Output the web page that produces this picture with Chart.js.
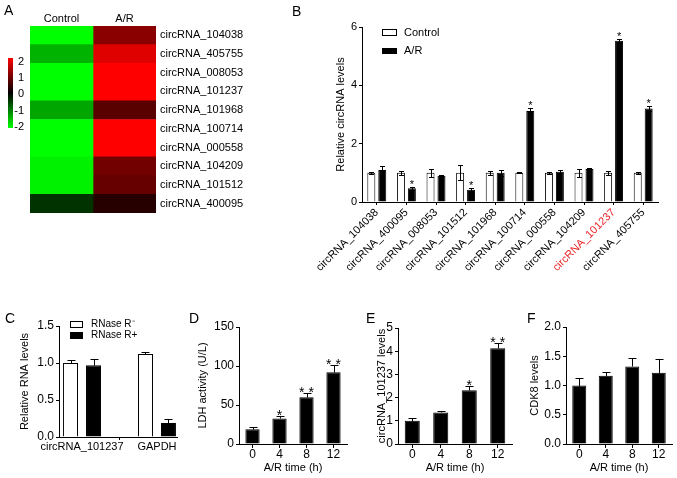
<!DOCTYPE html>
<html>
<head>
<meta charset="utf-8">
<script src="https://cdn.jsdelivr.net/npm/chart.js@4.4.1/dist/chart.umd.min.js"></script>
<style>
  body { margin: 0; background: #fff; font-family: "Liberation Sans", Arial, sans-serif; }
  #wrap { position: relative; width: 677px; height: 478px; overflow: hidden; }
  canvas { position: absolute; }
  .tag { position: absolute; font-size: 14px; line-height: 14px; color: #000; }
  .txt { position: absolute; color: #000; white-space: nowrap; }
  .sw { position: absolute; box-sizing: border-box; border: 1px solid #000; }
</style>
</head>
<body>
<div id="wrap">
  <canvas id="chartA" width="290" height="240" style="left:0;top:0"></canvas>
  <canvas id="chartB" width="382" height="300" style="left:295px;top:0"></canvas>
  <canvas id="chartC" width="200" height="178" style="left:0;top:300px"></canvas>
  <canvas id="chartD" width="170" height="178" style="left:190px;top:300px"></canvas>
  <canvas id="chartE" width="160" height="178" style="left:365px;top:300px"></canvas>
  <canvas id="chartF" width="152" height="178" style="left:525px;top:300px"></canvas>

  <div class="tag" style="left:4px;top:3px">A</div>
  <div class="tag" style="left:292px;top:4px">B</div>
  <div class="tag" style="left:5px;top:311px">C</div>
  <div class="tag" style="left:189px;top:311px">D</div>
  <div class="tag" style="left:366px;top:311px">E</div>
  <div class="tag" style="left:527px;top:311px">F</div>

  <!-- colour key of the heatmap -->
  <div style="position:absolute;left:8px;top:58px;width:5px;height:70px;background:linear-gradient(#ff0000,#000 50%,#00ff00)"></div>
  <div class="txt" style="left:10px;width:14px;text-align:right;top:55px;font-size:11px;line-height:12px">2</div>
  <div class="txt" style="left:10px;width:14px;text-align:right;top:71px;font-size:11px;line-height:12px">1</div>
  <div class="txt" style="left:10px;width:14px;text-align:right;top:87px;font-size:11px;line-height:12px">0</div>
  <div class="txt" style="left:10px;width:14px;text-align:right;top:104px;font-size:11px;line-height:12px">-1</div>
  <div class="txt" style="left:10px;width:14px;text-align:right;top:120px;font-size:11px;line-height:12px">-2</div>

  <!-- legend B -->
  <div class="sw" style="left:382px;top:29px;width:15px;height:7px;background:#fff"></div>
  <div class="txt" style="left:404px;top:26px;font-size:11px;line-height:13px">Control</div>
  <div class="sw" style="left:382px;top:48px;width:15px;height:6px;background:#000"></div>
  <div class="txt" style="left:404px;top:44px;font-size:11px;line-height:13px">A/R</div>

  <!-- legend C -->
  <div class="sw" style="left:70px;top:321px;width:13px;height:7px;background:#fff"></div>
  <div class="txt" style="left:91px;top:318px;font-size:10px;line-height:12px">RNase R⁻</div>
  <div class="sw" style="left:70px;top:332px;width:13px;height:7px;background:#000"></div>
  <div class="txt" style="left:91px;top:329px;font-size:10px;line-height:12px">RNase R+</div>
</div>

<script>
// A: heatmap (z-scores)
const heatRows = ["circRNA_104038", "circRNA_405755", "circRNA_008053", "circRNA_101237", "circRNA_101968",
                  "circRNA_100714", "circRNA_000558", "circRNA_104209", "circRNA_101512", "circRNA_400095"];
const heatCols = ["Control", "A/R"];
const heatControl = [-2, -1.4, -2, -2, -1.3, -2, -2, -1.9, -1.9, -0.4];
const heatAR = [1.08, 1.75, 2, 2, 0.7, 2, 2, 0.9, 0.8, 0.3];

// B: qPCR of the ten circRNAs
const bLabels = ["circRNA_104038", "circRNA_400095", "circRNA_008053", "circRNA_101512", "circRNA_101968",
                 "circRNA_100714", "circRNA_000558", "circRNA_104209", "circRNA_101237", "circRNA_405755"];
const bHighlight = "circRNA_101237";
const bControl = [1, 1, 1, 1, 1, 1, 1, 1, 1, 1];
const bControlErr = [0.03, 0.06, 0.14, 0.26, 0.06, 0.02, 0.03, 0.14, 0.06, 0.03];
const bAR = [1.1, 0.47, 0.9, 0.42, 1.0, 3.12, 1.04, 1.13, 5.53, 3.21];
const bARErr = [0.13, 0.05, 0.02, 0.06, 0.1, 0.12, 0.05, 0.03, 0.05, 0.09];
const bARSig = ["", "*", "", "*", "", "*", "", "", "*", "*"];

// C: RNase R
const cLabels = ["circRNA_101237", "GAPDH"];
const cMinus = [1.0, 1.12];
const cMinusErr = [0.045, 0.025];
const cPlus = [0.97, 0.19];
const cPlusErr = [0.08, 0.06];

// D-F: time course
const times = ["0", "4", "8", "12"];
const ldh = [18.8, 32.8, 60, 92];
const ldhErr = [3, 3, 5.6, 9];
const ldhSig = ["", "*", "**", "**"];
const circ = [1.0, 1.36, 2.32, 4.13];
const circErr = [0.14, 0.06, 0.17, 0.23];
const circSig = ["", "", "*", "**"];
const cdk8 = [1.0, 1.166, 1.326, 1.22];
const cdk8Err = [0.13, 0.065, 0.14, 0.24];

Chart.defaults.font.family = '"Liberation Sans", Arial, sans-serif';
Chart.defaults.color = "#000";
Chart.defaults.animation = false;
Chart.defaults.responsive = false;
Chart.defaults.devicePixelRatio = 1;
Chart.defaults.plugins.legend.display = false;
Chart.defaults.plugins.tooltip.enabled = false;

// error bars + asterisks, read from the dataset
const errorBars = {
  id: "errorBars",
  afterDatasetsDraw(chart) {
    const ctx = chart.ctx;
    const y = chart.scales.y;
    ctx.save();
    chart.data.datasets.forEach((ds, di) => {
      if (!ds.errors) return;
      const meta = chart.getDatasetMeta(di);
      meta.data.forEach((bar, i) => {
        const raw = ds.data[i];
        const v = typeof raw === "object" ? raw.y : raw;
        const e = ds.errors[i];
        const x = Math.round(bar.x) + 0.5;
        const top = Math.round(y.getPixelForValue(v + e)) + 0.5;
        const bot = Math.round(y.getPixelForValue(ds.errorBoth ? v - e : v)) + 0.5;
        const hw = ds.capWidth / 2;
        ctx.strokeStyle = "#000";
        ctx.lineWidth = 1;
        ctx.beginPath();
        ctx.moveTo(x, bot);
        ctx.lineTo(x, top);
        ctx.moveTo(x - hw, top);
        ctx.lineTo(x + hw, top);
        if (ds.errorBoth) {
          ctx.moveTo(x - hw, bot);
          ctx.lineTo(x + hw, bot);
        }
        ctx.stroke();
        if (ds.sig && ds.sig[i]) {
          ctx.fillStyle = "#000";
          ctx.font = ds.sigFont;
          ctx.textAlign = "center";
          ctx.textBaseline = "alphabetic";
          ctx.fillText(ds.sig[i].split("").join(" "), bar.x, top + ds.sigShift);
        }
      });
    });
    ctx.restore();
  }
};
Chart.register(errorBars);

function heatColor(v) {
  const c = Math.round(255 * Math.min(Math.abs(v) / 2, 1));
  return v >= 0 ? "rgb(" + c + ",0,0)" : "rgb(0," + c + ",0)";
}

function yAxis(o) {
  return {
    min: 0,
    max: o.max,
    ticks: { stepSize: o.step, font: { size: o.size || 12 }, padding: 2, callback: o.fmt },
    grid: { display: true, drawOnChartArea: false, color: "#000", tickLength: 3 },
    border: { color: "#000" },
    title: { display: true, text: o.title, font: { size: 11 }, padding: { top: o.tp, bottom: 0 } },
    afterFit: (s) => { s.width = o.w; }
  };
}

function timeAxis(h) {
  return {
    ticks: { font: { size: 12, lineHeight: 1 }, padding: 1 },
    grid: { display: true, drawOnChartArea: false, offset: false, color: "#000", tickLength: 4 },
    border: { color: "#000" },
    title: { display: true, text: "A/R time (h)", font: { size: 11 }, padding: { top: 0, bottom: 3 } },
    afterFit: (s) => { s.height = h; }
  };
}

// A
new Chart(document.getElementById("chartA"), {
  type: "bar",
  data: {
    labels: heatRows,
    datasets: [
      { label: heatCols[0], data: heatRows.map(() => 1), backgroundColor: heatControl.map(heatColor) },
      { label: heatCols[1], data: heatRows.map(() => 1), backgroundColor: heatAR.map(heatColor) }
    ]
  },
  options: {
    indexAxis: "y",
    layout: { padding: { left: 30, top: 0, right: 0, bottom: 27 } },
    datasets: { bar: { barPercentage: 1, categoryPercentage: 1, borderWidth: 0 } },
    scales: {
      x: {
        type: "linear", position: "top", stacked: true, min: 0, max: 2,
        grid: { display: false, drawTicks: false }, border: { display: false },
        afterBuildTicks: (s) => { s.ticks = heatCols.map((_, i) => ({ value: i + 0.5 })); },
        ticks: { font: { size: 11, lineHeight: 1 }, padding: 2, callback: (v, i) => heatCols[i] },
        afterFit: (s) => { s.height = 26; }
      },
      y: {
        position: "right", stacked: true,
        grid: { display: false, drawTicks: false }, border: { display: false },
        ticks: { font: { size: 11 }, padding: 4 },
        afterFit: (s) => { s.width = 134; }
      }
    }
  }
});

// B
new Chart(document.getElementById("chartB"), {
  type: "bar",
  data: {
    labels: bLabels,
    datasets: [
      { label: "Control", data: bControl, backgroundColor: "#fff", borderColor: "#000", borderWidth: 1,
        errors: bControlErr, errorBoth: true, capWidth: 5 },
      { label: "A/R", data: bAR, backgroundColor: "#000", borderColor: "#000", borderWidth: 1,
        errors: bARErr, errorBoth: true, capWidth: 5, sig: bARSig, sigFont: "11px 'Liberation Sans', Arial", sigShift: 0 }
    ]
  },
  options: {
    layout: { padding: { left: 0, top: 27, right: 19, bottom: 0 } },
    datasets: { bar: { categoryPercentage: 0.74, barPercentage: 0.73 } },
    scales: {
      x: {
        ticks: {
          font: { size: 11 }, padding: 1, autoSkip: false, minRotation: 45, maxRotation: 45,
          color: (c) => (bLabels[c.index] === bHighlight ? "#e8262a" : "#000")
        },
        grid: { display: true, drawOnChartArea: false, offset: false, color: "#000", tickLength: 3 },
        border: { color: "#000" },
        afterFit: (s) => { s.height = 98; }
      },
      y: yAxis({ max: 6, step: 2, title: "Relative circRNA levels", tp: 39, w: 67, size: 11 })
    }
  }
});

// C
new Chart(document.getElementById("chartC"), {
  type: "bar",
  data: {
    datasets: [
      { label: "RNase R-", data: cLabels.map((_, i) => ({ x: i, y: cMinus[i] })), backgroundColor: "#fff",
        borderColor: "#000", borderWidth: 1, errors: cMinusErr, capWidth: 8 },
      { label: "RNase R+", data: cLabels.map((_, i) => ({ x: i, y: cPlus[i] })), backgroundColor: "#000",
        borderColor: "#000", borderWidth: 1, errors: cPlusErr, capWidth: 8 }
    ]
  },
  options: {
    layout: { padding: { left: 0, top: 26, right: 23, bottom: 0 } },
    datasets: { bar: { categoryPercentage: 0.613, barPercentage: 0.652 } },
    scales: {
      x: {
        type: "linear", min: -0.307, max: 1.267, offset: false,
        afterBuildTicks: (s) => { s.ticks = cLabels.map((_, i) => ({ value: i })); },
        ticks: { font: { size: 11, lineHeight: 1 }, padding: 1, callback: (v, i) => cLabels[i] },
        grid: { display: true, drawOnChartArea: false, color: "#000", tickLength: 3 },
        border: { color: "#000" },
        afterFit: (s) => { s.height = 41; }
      },
      y: yAxis({ max: 1.5, step: 0.5, title: "Relative RNA levels", tp: 18, w: 59, fmt: (v) => v.toFixed(1) })
    }
  }
});

function timeChart(id, values, errs, sig, yo, pad) {
  return new Chart(document.getElementById(id), {
    type: "bar",
    data: {
      labels: times,
      datasets: [{ data: values, backgroundColor: "#000", borderColor: "#000", borderWidth: 1,
        errors: errs, capWidth: 8, sig: sig, sigFont: "14px 'Liberation Sans', Arial", sigShift: 3 }]
    },
    options: {
      layout: { padding: pad },
      datasets: { bar: { categoryPercentage: 0.8, barPercentage: 0.66 } },
      scales: { x: timeAxis(34), y: yAxis(yo) }
    }
  });
}

timeChart("chartD", ldh, ldhErr, ldhSig,
  { max: 150, step: 50, title: "LDH activity (U/L)", tp: 6, w: 49 },
  { left: 0, top: 27, right: 13, bottom: 0 });
timeChart("chartE", circ, circErr, circSig,
  { max: 5, step: 1, title: "circRNA_101237 levels", tp: 10, w: 33 },
  { left: 0, top: 28, right: 13, bottom: 0 });
timeChart("chartF", cdk8, cdk8Err, null,
  { max: 2, step: 0.5, title: "CDK8 levels", tp: 3, w: 41, fmt: (v) => v.toFixed(1) },
  { left: 0, top: 27, right: 5, bottom: 0 });
</script>
</body>
</html>
